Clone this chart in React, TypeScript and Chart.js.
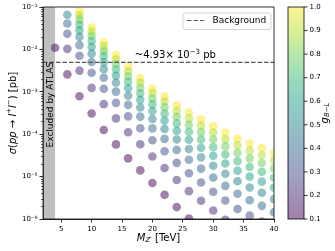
import React, { useEffect, useRef } from "react";
import { Chart, registerables } from "chart.js";

Chart.register(...registerables);

// ---------- data ----------
const masses = [4, 6, 8, 10, 12, 14, 16, 18, 20, 22, 24, 26, 28, 30, 32, 34, 36, 38, 40];
const couplings = [0.1, 0.2, 0.3, 0.4, 0.5, 0.6, 0.7, 0.8, 0.9, 1.0];

const sigmaG01 = [1.09e-2, 2.58e-3, 7.87e-4, 3.07e-4, 1.26e-4, 5.75e-5, 2.69e-5, 1.4e-5, 7.08e-6, 3.72e-6, 1.91e-6, 1.02e-6, 5.96e-7, 3.47e-7, 2.07e-7, 1.26e-7, 8.5e-8, 6.0e-8, 4.1e-8];
const sigmaG02 = [null, 1.03e-2, 3.15e-3, 1.24e-3, 5.12e-4, 2.36e-4, 1.11e-4, 5.8e-5, 2.97e-5, 1.59e-5, 8.29e-6, 4.54e-6, 2.69e-6, 1.59e-6, 9.61e-7, 5.95e-7, 4.06e-7, 2.91e-7, 1.99e-7];
const sigmaG03 = [null, 2.33e-2, 7.08e-3, 2.81e-3, 1.18e-3, 5.49e-4, 2.63e-4, 1.38e-4, 7.19e-5, 3.96e-5, 2.11e-5, 1.2e-5, 7.25e-6, 4.39e-6, 2.72e-6, 1.72e-6, 1.2e-6, 8.7e-7, 6.04e-7];
const sigmaG04 = [null, 4.08e-2, 1.26e-2, 5.04e-3, 2.14e-3, 1.01e-3, 4.92e-4, 2.6e-4, 1.37e-4, 7.77e-5, 4.26e-5, 2.49e-5, 1.54e-5, 9.54e-6, 6.05e-6, 3.93e-6, 2.77e-6, 2.04e-6, 1.44e-6];
const sigmaG05 = [null, 6.56e-2, 1.97e-2, 7.94e-3, 3.41e-3, 1.63e-3, 8.06e-4, 4.27e-4, 2.29e-4, 1.33e-4, 7.47e-5, 4.49e-5, 2.84e-5, 1.8e-5, 1.17e-5, 7.74e-6, 5.54e-6, 4.15e-6, 2.94e-6];
const sigmaG06 = [null, null, 2.83e-2, 1.15e-2, 5.01e-3, 2.41e-3, 1.21e-3, 6.46e-4, 3.51e-4, 2.09e-4, 1.2e-4, 7.4e-5, 4.78e-5, 3.09e-5, 2.04e-5, 1.38e-5, 1.0e-5, 7.61e-6, 5.51e-6];
const sigmaG07 = [null, null, 3.86e-2, 1.58e-2, 6.94e-3, 3.38e-3, 1.72e-3, 9.2e-4, 5.06e-4, 3.08e-4, 1.8e-4, 1.14e-4, 7.51e-5, 4.94e-5, 3.33e-5, 2.3e-5, 1.69e-5, 1.3e-5, 9.52e-6];
const sigmaG08 = [null, null, 5.04e-2, 2.08e-2, 9.21e-3, 4.53e-3, 2.33e-3, 1.25e-3, 6.98e-4, 4.34e-4, 2.59e-4, 1.67e-4, 1.12e-4, 7.52e-5, 5.16e-5, 3.62e-5, 2.69e-5, 2.09e-5, 1.55e-5];
const sigmaG09 = [null, null, 6.37e-2, 2.65e-2, 1.18e-2, 5.87e-3, 3.05e-3, 1.65e-3, 9.29e-4, 5.89e-4, 3.57e-4, 2.36e-4, 1.61e-4, 1.09e-4, 7.65e-5, 5.46e-5, 4.1e-5, 3.22e-5, 2.42e-5];
const sigmaG10 = [null, null, 7.87e-2, 3.29e-2, 1.48e-2, 7.41e-3, 3.89e-3, 2.11e-3, 1.2e-3, 7.76e-4, 4.79e-4, 3.24e-4, 2.24e-4, 1.55e-4, 1.1e-4, 7.94e-5, 6.03e-5, 4.79e-5, 3.63e-5];

const sigmaSeries = [sigmaG01, sigmaG02, sigmaG03, sigmaG04, sigmaG05, sigmaG06, sigmaG07, sigmaG08, sigmaG09, sigmaG10];

const backgroundXsec = 4.93e-3;
const excludedMassRange = [2, 4];
const xRange = [2, 40];
const yRange = [1e-6, 1e-1];
const xTicks = [5, 10, 15, 20, 25, 30, 35, 40];
const yTicks = [1e-6, 1e-5, 1e-4, 1e-3, 1e-2, 1e-1];
const colorbarTicks = [0.1, 0.2, 0.3, 0.4, 0.5, 0.6, 0.7, 0.8, 0.9, 1.0];
const colorRange = [0.1, 1.0];

// ---------- style ----------
const FONT = '"DejaVu Sans"';
const VIRIDIS = ["#440154", "#482878", "#3e4989", "#31688e", "#26828e", "#1f9e89", "#35b779", "#6ece58", "#b5de2b", "#fde725"];
const ALPHA = 0.5;

function rgba(hex: string, a: number) {
  const n = parseInt(hex.slice(1), 16);
  return `rgba(${(n >> 16) & 255},${(n >> 8) & 255},${n & 255},${a})`;
}
function hexToRgb(hex: string) {
  const n = parseInt(hex.slice(1), 16);
  return [(n >> 16) & 255, (n >> 8) & 255, n & 255];
}
function viridisAt(t: number) {
  const tt = Math.max(0, Math.min(1, t)) * (VIRIDIS.length - 1);
  const i = Math.min(VIRIDIS.length - 2, Math.floor(tt));
  const f = tt - i;
  const a = hexToRgb(VIRIDIS[i]);
  const b = hexToRgb(VIRIDIS[i + 1]);
  const c = a.map((v, k) => Math.round(v + (b[k] - v) * f));
  return `#${c.map((v) => v.toString(16).padStart(2, "0")).join("")}`;
}
function colorFor(g: number) {
  return viridisAt((g - colorRange[0]) / (colorRange[1] - colorRange[0]));
}

const SUP: Record<string, string> = { "-": "⁻", "0": "⁰", "1": "¹", "2": "²", "3": "³", "4": "⁴", "5": "⁵", "6": "⁶", "7": "⁷", "8": "⁸", "9": "⁹" };
function powLabel(v: number) {
  const e = Math.round(Math.log10(v));
  return "10" + String(e).split("").map((c) => SUP[c] || c).join("");
}

type Seg = { t: string; size: number; italic?: boolean; dy?: number };
function drawRich(
  ctx: CanvasRenderingContext2D,
  segs: Seg[],
  x: number,
  y: number,
  opts: { rotate?: number; align?: "center" | "left"; baseline?: CanvasTextBaseline; color?: string } = {}
) {
  ctx.save();
  ctx.translate(x, y);
  if (opts.rotate) ctx.rotate(opts.rotate);
  ctx.fillStyle = opts.color || "#000";
  ctx.textBaseline = opts.baseline || "middle";
  ctx.textAlign = "left";
  const fonts = segs.map((s) => `${s.italic ? "italic " : ""}${s.size}px ${FONT}`);
  const widths = segs.map((s, i) => {
    ctx.font = fonts[i];
    return ctx.measureText(s.t).width;
  });
  const total = widths.reduce((a, b) => a + b, 0);
  let cx = opts.align === "left" ? 0 : -total / 2;
  segs.forEach((s, i) => {
    ctx.font = fonts[i];
    ctx.fillText(s.t, cx, s.dy || 0);
    cx += widths[i];
  });
  ctx.restore();
}

const decorPlugin = {
  id: "decor",
  afterDraw(chart: any) {
    const ctx: CanvasRenderingContext2D = chart.ctx;
    const { left, right, top, bottom } = chart.chartArea;
    const xs = chart.scales.x;
    const ys = chart.scales.y;

    // frame
    ctx.save();
    ctx.strokeStyle = "#000";
    ctx.lineWidth = 0.8;
    ctx.strokeRect(left, top, right - left, bottom - top);

    // minor ticks on y
    ctx.lineWidth = 0.6;
    ctx.beginPath();
    for (let e = -6; e <= -2; e++) {
      for (let k = 2; k <= 9; k++) {
        const yy = Math.round(ys.getPixelForValue(k * Math.pow(10, e))) + 0.5;
        ctx.moveTo(left - 2, yy);
        ctx.lineTo(left, yy);
      }
    }
    ctx.stroke();
    ctx.restore();

    // axis titles
    drawRich(ctx, [
      { t: "M", size: 10, italic: true },
      { t: "Z′", size: 7, italic: true, dy: 2.5 },
      { t: " [TeV]", size: 10 },
    ], (left + right) / 2, 238);

    drawRich(ctx, [
      { t: "σ", size: 10, italic: true },
      { t: "(", size: 10 },
      { t: "pp", size: 10, italic: true },
      { t: " → ", size: 10 },
      { t: "l", size: 10, italic: true },
      { t: "+", size: 7, dy: -3.5 },
      { t: "l", size: 10, italic: true },
      { t: "−", size: 7, dy: -3.5 },
      { t: ") [pb]", size: 10 },
    ], 13, (top + bottom) / 2, { rotate: -Math.PI / 2 });

    // annotations
    drawRich(ctx, [{ t: "Excluded by ATLAS", size: 9 }], xs.getPixelForValue(3.2), ys.getPixelForValue(5e-4), { rotate: -Math.PI / 2 });
    drawRich(ctx, [
      { t: "~4.93× 10", size: 10 },
      { t: "−3", size: 7, dy: -4.5 },
      { t: " pb", size: 10 },
    ], xs.getPixelForValue(17.1), ys.getPixelForValue(backgroundXsec) - 4, { align: "left", baseline: "alphabetic" });

    // legend
    ctx.save();
    const lx = 183, ly = 13, lw = 88, lh = 16.5;
    ctx.beginPath();
    const r = 2;
    ctx.moveTo(lx + r, ly);
    ctx.arcTo(lx + lw, ly, lx + lw, ly + lh, r);
    ctx.arcTo(lx + lw, ly + lh, lx, ly + lh, r);
    ctx.arcTo(lx, ly + lh, lx, ly, r);
    ctx.arcTo(lx, ly, lx + lw, ly, r);
    ctx.closePath();
    ctx.fillStyle = "rgba(255,255,255,0.8)";
    ctx.fill();
    ctx.strokeStyle = "#cccccc";
    ctx.lineWidth = 0.8;
    ctx.stroke();
    ctx.beginPath();
    ctx.setLineDash([4.5, 2]);
    ctx.strokeStyle = "#555";
    ctx.lineWidth = 1.2;
    ctx.moveTo(187, 20.5);
    ctx.lineTo(204, 20.5);
    ctx.stroke();
    ctx.setLineDash([]);
    ctx.restore();
    drawRich(ctx, [{ t: "Background", size: 9 }], 212.5, 20.5, { align: "left" });

    // colorbar
    const cbL = 288, cbR = 304;
    ctx.save();
    const grad = ctx.createLinearGradient(0, bottom, 0, top);
    VIRIDIS.forEach((c, i) => grad.addColorStop(i / (VIRIDIS.length - 1), rgba(c, ALPHA)));
    ctx.fillStyle = grad;
    ctx.fillRect(cbL, top, cbR - cbL, bottom - top);
    ctx.strokeStyle = "#000";
    ctx.lineWidth = 0.8;
    ctx.strokeRect(cbL, top, cbR - cbL, bottom - top);
    ctx.beginPath();
    colorbarTicks.forEach((v) => {
      const yy = bottom - ((v - colorRange[0]) / (colorRange[1] - colorRange[0])) * (bottom - top);
      ctx.moveTo(cbR, yy);
      ctx.lineTo(cbR + 3.5, yy);
    });
    ctx.stroke();
    ctx.restore();
    colorbarTicks.forEach((v) => {
      const yy = bottom - ((v - colorRange[0]) / (colorRange[1] - colorRange[0])) * (bottom - top);
      drawRich(ctx, [{ t: v.toFixed(1), size: 7 }], cbR + 5.5, yy, { align: "left" });
    });
    drawRich(ctx, [
      { t: "g", size: 10, italic: true },
      { t: "B−L", size: 7, italic: true, dy: 2.5 },
    ], 325, (top + bottom) / 2, { rotate: -Math.PI / 2 });
  },
};

export default function App() {
  const ref = useRef<HTMLCanvasElement>(null);

  useEffect(() => {
    const canvas = ref.current;
    if (!canvas) return;

    const scatterSets = couplings.map((g, gi) => ({
      type: "scatter" as const,
      label: `g=${g}`,
      data: masses
        .map((m, i) => ({ x: m, y: sigmaSeries[gi][i] }))
        .filter((p) => p.y !== null),
      backgroundColor: rgba(colorFor(g), ALPHA),
      borderWidth: 0,
      pointRadius: 4.3,
      order: 2,
    }));

    const chart = new Chart(canvas, {
      type: "scatter",
      data: {
        datasets: [
          {
            type: "line",
            label: "excluded",
            data: [
              { x: excludedMassRange[0], y: yRange[1] },
              { x: excludedMassRange[1], y: yRange[1] },
            ],
            fill: "start",
            backgroundColor: "rgba(128,128,128,0.5)",
            borderWidth: 0,
            pointRadius: 0,
            order: 3,
          } as any,
          ...scatterSets,
          {
            type: "line",
            label: "Background",
            data: [
              { x: xRange[0], y: backgroundXsec },
              { x: xRange[1], y: backgroundXsec },
            ],
            borderColor: "#555",
            borderWidth: 1.2,
            borderDash: [4.5, 2],
            pointRadius: 0,
            fill: false,
            order: 1,
          } as any,
        ],
      },
      options: {
        animation: false,
        responsive: false,
        devicePixelRatio: 1,
        events: [],
        layout: { padding: { left: 0, right: 61, top: 7, bottom: 0 } },
        plugins: { legend: { display: false }, tooltip: { enabled: false } },
        scales: {
          x: {
            type: "linear",
            min: xRange[0],
            max: xRange[1],
            afterBuildTicks: (s: any) => {
              s.ticks = xTicks.map((v) => ({ value: v }));
            },
            afterFit: (s: any) => {
              s.height = 32;
            },
            grid: { drawOnChartArea: false, drawTicks: true, tickLength: 3.5, color: "#000", tickWidth: 0.8 },
            border: { display: true, color: "#000", width: 0.8 },
            ticks: {
              font: { size: 7, family: FONT },
              color: "#000",
              padding: 2,
              maxRotation: 0,
              autoSkip: false,
              callback: (v: any) => String(v),
            },
          },
          y: {
            type: "logarithmic",
            min: yRange[0],
            max: yRange[1],
            afterBuildTicks: (s: any) => {
              s.ticks = yTicks.map((v) => ({ value: v }));
            },
            afterFit: (s: any) => {
              s.width = 43;
            },
            grid: { drawOnChartArea: false, drawTicks: true, tickLength: 3.5, color: "#000", tickWidth: 0.8 },
            border: { display: true, color: "#000", width: 0.8 },
            ticks: {
              font: { size: 7, family: FONT },
              color: "#000",
              padding: 2,
              autoSkip: false,
              callback: (v: any) => powLabel(Number(v)),
            },
          },
        },
      },
      plugins: [decorPlugin],
    } as any);

    return () => chart.destroy();
  }, []);

  return (
    <div style={{ position: "fixed", left: 0, top: 0, width: 335, height: 251, background: "#fff" }}>
      <canvas ref={ref} width={335} height={251} style={{ display: "block", width: 335, height: 251 }} />
    </div>
  );
}
